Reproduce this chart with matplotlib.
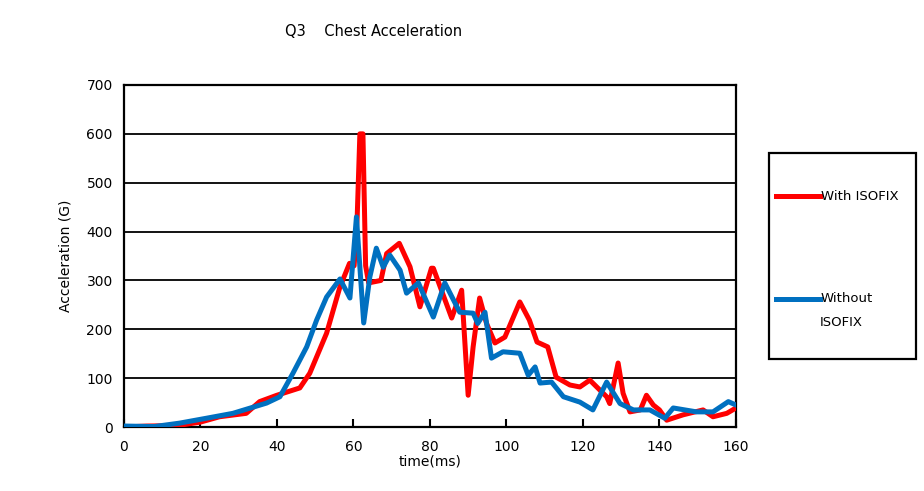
"""Q3 chest acceleration, with vs without ISOFIX."""

import matplotlib
matplotlib.use("Agg")
import matplotlib.pyplot as plt
from matplotlib.patches import Rectangle
from matplotlib.lines import Line2D

# With ISOFIX (red)
t_with = [0, 6, 14, 20, 25, 32, 35.5, 40, 46, 48.6, 53, 56.5, 59, 60.2, 61.0,
          61.7, 62.5, 63.2, 64, 67.2, 68.7, 72, 74.8, 77.4, 80.4, 80.9, 85.7,
          88.3, 90, 91.3, 93, 94.8, 97, 99.6, 103.5, 106, 108, 110.8, 113,
          116.6, 119.2, 121.8, 126.2, 127, 129.2, 130.5, 132.3, 135, 136.6,
          138.4, 140, 141.9, 146.2, 151.4, 154, 157.6, 160]
g_with = [0, 2, 3, 10, 21, 28, 52, 65, 80, 110, 192, 287, 335, 330, 430,
          600, 600, 330, 295, 300, 355, 376, 328, 246, 325, 325, 223,
          280, 65, 164, 264, 212, 172, 184, 256, 219, 174, 164, 102,
          86, 82, 96, 62, 48, 131, 69, 31, 35, 65,
          45, 35, 14, 25, 35, 21, 28, 39]

# Without ISOFIX (blue)
t_without = [0, 8, 14.6, 21.6, 28.5, 37.3, 40.8, 44.2, 47.8, 50.4, 53, 56.5,
             59.1, 60.8, 62.7, 64.3, 66, 67.8, 69.5, 72.2, 73.9, 77, 80.9,
             83.9, 87.8, 91.3, 92.5, 94.4, 96.1, 99.1, 103.5, 105.7, 107.5,
             108.8, 111.8, 114.9, 119.2, 122.6, 126.2, 129.7, 133.2, 137.5,
             141.4, 143.6, 149.7, 154, 158, 160]
g_without = [2, 1, 8, 18, 28, 49, 62, 110, 164, 219, 266, 303,
             264, 430, 213, 307, 366, 327, 352, 321, 274, 295, 225,
             295, 235, 233, 212, 235, 141, 154, 151, 106, 123,
             90, 92, 62, 51, 35, 92, 48, 35, 35,
             18, 39, 31, 31, 52, 45]

x_ticks = [0, 20, 40, 60, 80, 100, 120, 140, 160]
y_ticks = [0, 100, 200, 300, 400, 500, 600, 700]

RED = "#ff0000"
BLUE = "#0070c0"

fig = plt.figure(figsize=(9.24, 4.91), dpi=100, facecolor="white")
ax = fig.add_axes([0.134, 0.1303, 0.6625, 0.6966])

for y in y_ticks[1:-1]:
    ax.axhline(y, color="black", lw=1.3, zorder=1)

ax.plot(t_with, g_with, color=RED, lw=3.6, zorder=3, solid_joinstyle="round")
ax.plot(t_without, g_without, color=BLUE, lw=3.6, zorder=4, solid_joinstyle="round")

ax.set_xlim(0, 160)
ax.set_ylim(0, 700)
ax.set_xticks(x_ticks)
ax.set_yticks(y_ticks)
ax.tick_params(axis="x", direction="in", length=6, width=1.5, labelsize=10, pad=9)
ax.tick_params(axis="y", length=0, labelsize=10, pad=8)
for s in ax.spines.values():
    s.set_linewidth(1.6)
ax.set_xlabel("time(ms)", fontsize=10, labelpad=1)
ax.set_ylabel("Acceleration (G)", fontsize=10, labelpad=10)

fig.text(374 / 924, 1 - 31 / 491, "Q3    Chest Acceleration", fontsize=10.5,
         ha="center", va="center")

# legend box drawn by hand to match the original's tall layout
fig.patches.append(Rectangle((769 / 924, 1 - 359 / 491), 147 / 924, 206 / 491,
                             transform=fig.transFigure, fill=False,
                             edgecolor="black", lw=1.6))
fig.lines.append(Line2D([776 / 924, 820 / 924], [1 - 196 / 491] * 2,
                        transform=fig.transFigure, color=RED, lw=3.6))
fig.lines.append(Line2D([776 / 924, 820 / 924], [1 - 299 / 491] * 2,
                        transform=fig.transFigure, color=BLUE, lw=3.6))
fig.text(821 / 924, 1 - 196 / 491, "With ISOFIX", fontsize=9.5, va="center")
fig.text(821 / 924, 1 - 299 / 491, "Without", fontsize=9.5, va="center")
fig.text(820 / 924, 1 - 322 / 491, "ISOFIX", fontsize=9.5, va="center")

fig.savefig("out.png", dpi=100, facecolor="white")
